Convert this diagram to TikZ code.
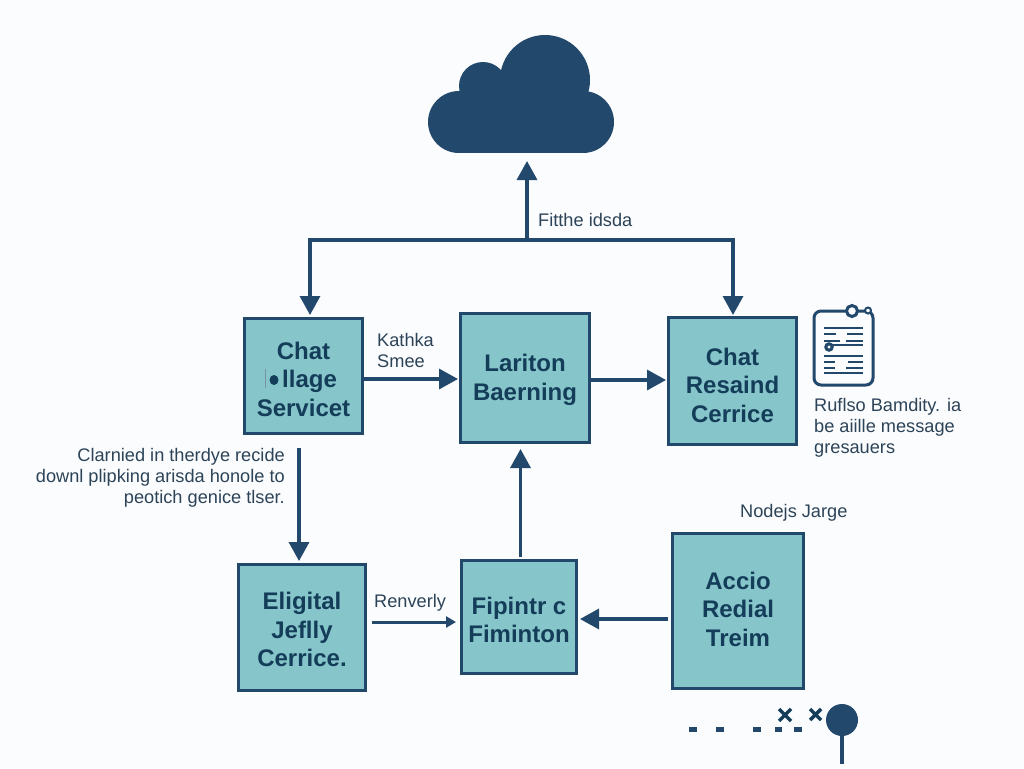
\documentclass[tikz,border=0pt]{standalone}
\usepackage{fontspec}
\setmainfont{Liberation Sans}
\usetikzlibrary{arrows.meta}
\definecolor{ink}{HTML}{22486C}
\definecolor{txt}{HTML}{143D59}
\definecolor{lab}{HTML}{2C4358}
\definecolor{teal}{HTML}{86C5CA}
\definecolor{paper}{HTML}{FBFCFD}
\newcommand{\tdown}[1]{\rule{0pt}{#1}}
\tikzset{
  boxnode/.style={draw=ink,line width=3pt,fill=teal,text=txt,align=center,inner sep=0pt,
    font=\fontsize{24}{28.5}\selectfont\bfseries},
  conn/.style={draw=ink,line width=3.3pt,-{Triangle[length=19pt,width=20pt]}},
  connthin/.style={draw=ink,line width=3pt,-{Triangle[length=10pt,width=11pt]}},
  plainconn/.style={draw=ink,line width=3.3pt,line cap=rect},
  lbl/.style={text=lab,inner sep=0pt,font=\fontsize{18.2}{21}\selectfont},
  iconline/.style={draw=ink,line width=1.8pt},
  dashmark/.style={draw=ink,line width=5pt},
  crossmark/.style={draw=txt,line width=3.5pt}
}
\begin{document}
\begin{tikzpicture}[x=1pt,y=-1pt]
\useasboundingbox (0,0) rectangle (1024,768);
\fill[paper] (0,0) rectangle (1024,768);
% cloud
\fill[ink] (459,122) circle[radius=31pt];
\fill[ink] (583,122) circle[radius=31pt];
\fill[ink] (483,86) circle[radius=24pt];
\fill[ink] (545,80) circle[radius=45pt];
\fill[ink] (459,91) rectangle (583,153);
\coordinate (cloudbase) at (527,161);
% boxes
\node[boxnode,minimum width=117.5pt,minimum height=114.5pt] (a) at (303.5,376) {\tdown{23.5pt}Chat\\\hspace*{12pt}llage\\Servicet};
\node[boxnode,minimum width=128.5pt,minimum height=128.5pt] (b) at (525,378) {\tdown{21.5pt}Lariton\\Baerning};
\node[boxnode,minimum width=127.5pt,minimum height=126.5pt] (c) at (732.5,381) {\tdown{25.5pt}Chat\\Resaind\\Cerrice};
\node[boxnode,minimum width=126.5pt,minimum height=125.5pt] (d) at (302,627.5) {\tdown{21.5pt}Eligital\\Jeflly\\Cerrice.};
\node[boxnode,minimum width=114.5pt,minimum height=112.5pt] (e) at (519,617) {\tdown{23.5pt}Fipintr c\\Fiminton};
\node[boxnode,minimum width=130.5pt,minimum height=154.5pt] (f) at (738,611) {Accio\\Redial\\Treim\rule[-4pt]{0pt}{4pt}};
% smudge in the box text
\draw[ink!60,line width=.8pt] (265.5,369) -- (265.5,388);
\fill[txt] (274,380) ellipse[x radius=4.5pt,y radius=5pt];
% connectors
\coordinate (split) at (527,240);
\coordinate (busl) at (310,240);
\coordinate (busr) at (733,240);
\coordinate (atop) at (310,315);
\coordinate (ctop) at (733,315);
\draw[conn] (split) -- (cloudbase);
\draw[plainconn] (busl) -- (busr);
\draw[conn] (busl) -- (atop);
\draw[conn] (busr) -- (ctop);
\coordinate (a1) at (299,448);
\coordinate (d1) at (299,561);
\draw[conn] (a1) -- (d1);
\draw[conn] (a.east |- 0,379) -- (458,379);
\draw[conn] (b.east |- 0,380) -- (666,380);
\coordinate (d2) at (372,622);
\coordinate (e2) at (456,622);
\draw[connthin] (d2) -- (e2);
\coordinate (e3) at (520.5,557);
\coordinate (b3) at (520.5,449);
\draw[conn] (e3) -- (b3);
\coordinate (f4) at (668,619);
\coordinate (e4) at (580,619);
\draw[conn] (f4) -- (e4);
% labels
\node[lbl,anchor=west] (l1) at (538,219.5) {Fitthe idsda};
\node[lbl,anchor=west,align=left] (l2) at (377,350.5) {Kathka\\Smee};
\node[lbl,anchor=west] (l3) at (374,603) {Renverly};
\node[lbl,anchor=west] (l4) at (740,513) {Nodejs Jarge};
\node[lbl,anchor=east,align=right] (l5) at (285,478) {Clarnied in therdye recide\\downl plipking arisda honole to\\peotich genice tlser.};
\node[lbl,anchor=west,align=left] (l6) at (814,428) {Ruflso Bamdity. ia\\be aiille message\\gresauers};
% clipboard icon
\draw[ink,line width=3pt,rounded corners=7pt] (814,311) rectangle (873,385);
\draw[ink,line width=3pt,fill=paper] (852,311) circle[radius=5.5pt];
\draw[ink,line width=2pt,fill=paper] (868,310.5) circle[radius=3pt];
\draw[iconline] (824,328) -- (863,328);
\draw[iconline] (824,334) -- (836,334) (847,334) -- (863,334);
\draw[iconline] (824,341) -- (840,341) (846,341) -- (863,341);
\draw[iconline] (830,345) -- (863,345);
\draw[ink,line width=3pt,fill=paper] (829,347) circle[radius=3.2pt];
\draw[iconline] (824,356) -- (863,356);
\draw[iconline] (824,362) -- (835,362) (848,362) -- (863,362);
\draw[iconline] (824,368) -- (835,368) (846,368) -- (863,368);
\draw[iconline] (824,373) -- (863,373);
% bottom marks
\draw[dashmark] (689,729) -- (697,729) (716,729) -- (724,729) (753,729) -- (761,729) (775,729) -- (782,729) (794,729) -- (802,729);
\draw[crossmark] (779,709) -- (791,721) (779,721) -- (791,709);
\draw[crossmark] (810,709) -- (821,720) (810,720) -- (821,709);
\fill[ink] (842,720) circle[radius=16pt];
\draw[ink,line width=3.5pt] (842,730) -- (842,764);
\end{tikzpicture}
\end{document}
